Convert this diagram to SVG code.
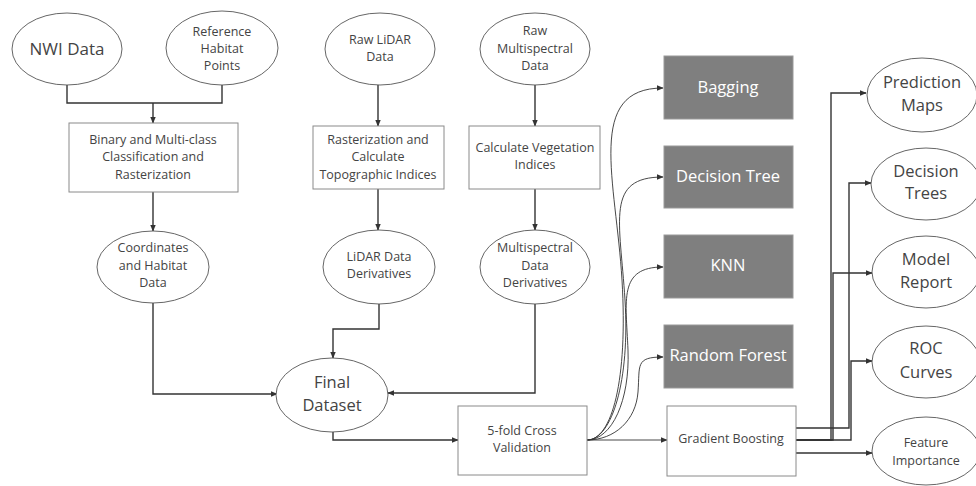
<svg xmlns="http://www.w3.org/2000/svg" width="976" height="486" viewBox="0 0 976 486">
<style>
.bg{fill:#fff}
.el{fill:#fff;stroke:#555;stroke-width:0.9}
.bx{fill:#fff;stroke:#8a8a8a;stroke-width:1}
.dk{fill:#7f7f7f;stroke:#9a9a9a;stroke-width:1}
text{font-family:"Open Sans","Noto Sans","DejaVu Sans",sans-serif;fill:#444;text-anchor:middle}
.s{font-size:12.5px}
.m{font-size:16.5px}
.l{font-size:17px}
.w{fill:#fff;font-size:16.5px}
.c{fill:none;stroke:#333;stroke-width:1.4}
.cv{fill:none;stroke:#333;stroke-width:0.9}
</style>
<defs>
<marker id="ah" viewBox="0 0 10 10" refX="9" refY="5" markerWidth="7" markerHeight="7" markerUnits="userSpaceOnUse" orient="auto">
<path d="M0,1 L10,5 L0,9 Z" fill="#333"/>
</marker>
</defs>
<rect class="bg" x="0" y="0" width="976" height="486"/>
<g id="connectors">
<path class="c" d="M67,85 V103 H222 V85"/>
<path class="c" d="M153,103 V123" marker-end="url(#ah)"/>
<path class="c" d="M153,192 V231" marker-end="url(#ah)"/>
<path class="c" d="M378,85 V126" marker-end="url(#ah)"/>
<path class="c" d="M535,85 V126" marker-end="url(#ah)"/>
<path class="c" d="M378,189 V230" marker-end="url(#ah)"/>
<path class="c" d="M535,189 V230" marker-end="url(#ah)"/>
<path class="c" d="M153,303 V394 H277" marker-end="url(#ah)"/>
<path class="c" d="M379,304 V329 H333 V358" marker-end="url(#ah)"/>
<path class="c" d="M535,304 V393 H388" marker-end="url(#ah)"/>
<path class="c" d="M333,432 V440 H458" marker-end="url(#ah)"/>
<path class="cv" d="M587,440 C612,440 628,380 622,280 C616,180 585,88 663,88" marker-end="url(#ah)"/>
<path class="cv" d="M587,440 C612,440 630,380 625,300 C620,220 605,177 663,177" marker-end="url(#ah)"/>
<path class="cv" d="M587,440 C612,440 630,400 628,350 C626,300 618,267 663,267" marker-end="url(#ah)"/>
<path class="cv" d="M587,440 C615,440 636,420 638,392 C640,365 635,357 663,357" marker-end="url(#ah)"/>
<path class="cv" d="M587,440 H667" marker-end="url(#ah)"/>
<path class="c" d="M796,440 H831 V93 H866" marker-end="url(#ah)"/>
<path class="c" d="M796,428 H849 V183 H871" marker-end="url(#ah)"/>
<path class="c" d="M796,440 H833 V273 H872" marker-end="url(#ah)"/>
<path class="c" d="M796,440 H851 V361 H872" marker-end="url(#ah)"/>
<path class="c" d="M796,453 H872" marker-end="url(#ah)"/>
</g>
<g id="nwi"><ellipse class="el" cx="67" cy="49" rx="55" ry="36"/><text class="l" x="67" y="55">NWI Data</text></g>
<g id="ref"><ellipse class="el" cx="222" cy="48" rx="56" ry="37"/><text class="s" x="222" y="36">Reference</text><text class="s" x="222" y="53">Habitat</text><text class="s" x="222" y="70">Points</text></g>
<g id="rawlidar"><ellipse class="el" cx="380" cy="49" rx="55" ry="36"/><text class="s" x="380" y="44">Raw LiDAR</text><text class="s" x="380" y="61">Data</text></g>
<g id="rawms"><ellipse class="el" cx="535" cy="49" rx="55" ry="36"/><text class="s" x="535" y="35">Raw</text><text class="s" x="535" y="53">Multispectral</text><text class="s" x="535" y="70">Data</text></g>
<g id="binary"><rect class="bx" x="69" y="123" width="169" height="69"/><text class="s" x="153" y="144">Binary and Multi-class</text><text class="s" x="153" y="161">Classification and</text><text class="s" x="153" y="179">Rasterization</text></g>
<g id="raster"><rect class="bx" x="313" y="126" width="131" height="63"/><text class="s" x="378" y="144">Rasterization and</text><text class="s" x="378" y="161">Calculate</text><text class="s" x="378" y="179">Topographic Indices</text></g>
<g id="veg"><rect class="bx" x="469" y="126" width="131" height="63"/><text class="s" x="535" y="152">Calculate Vegetation</text><text class="s" x="535" y="169">Indices</text></g>
<g id="coords"><ellipse class="el" cx="153" cy="267" rx="56" ry="36"/><text class="s" x="153" y="252">Coordinates</text><text class="s" x="153" y="270">and Habitat</text><text class="s" x="153" y="287">Data</text></g>
<g id="lidarderiv"><ellipse class="el" cx="379" cy="267" rx="56" ry="37"/><text class="s" x="379" y="261">LiDAR Data</text><text class="s" x="379" y="278">Derivatives</text></g>
<g id="msderiv"><ellipse class="el" cx="535" cy="267" rx="55" ry="37"/><text class="s" x="535" y="252">Multispectral</text><text class="s" x="535" y="270">Data</text><text class="s" x="535" y="287">Derivatives</text></g>
<g id="final"><ellipse class="el" cx="332" cy="395" rx="56" ry="37"/><text class="m" x="332" y="388">Final</text><text class="m" x="332" y="411">Dataset</text></g>
<g id="cv"><rect class="bx" x="458" y="406" width="129" height="69"/><text class="s" x="522" y="435">5-fold Cross</text><text class="s" x="522" y="452">Validation</text></g>
<g id="bagging"><rect class="dk" x="664" y="56" width="129" height="63"/><text class="w" x="728" y="93">Bagging</text></g>
<g id="dtree"><rect class="dk" x="664" y="146" width="129" height="62"/><text class="w" x="728" y="182">Decision Tree</text></g>
<g id="knn"><rect class="dk" x="664" y="235" width="129" height="63"/><text class="w" x="728" y="271">KNN</text></g>
<g id="rf"><rect class="dk" x="664" y="325" width="129" height="63"/><text class="w" x="728" y="361">Random Forest</text></g>
<g id="gb"><rect class="bx" x="667" y="406" width="129" height="70"/><text class="s" x="731" y="443">Gradient Boosting</text></g>
<g id="predmaps"><ellipse class="el" cx="922" cy="95" rx="55" ry="37"/><text class="m" x="922" y="88">Prediction</text><text class="m" x="922" y="111">Maps</text></g>
<g id="dtrees"><ellipse class="el" cx="926" cy="184" rx="55" ry="36"/><text class="m" x="926" y="177">Decision</text><text class="m" x="926" y="199">Trees</text></g>
<g id="report"><ellipse class="el" cx="926" cy="272" rx="54" ry="36"/><text class="m" x="926" y="265">Model</text><text class="m" x="926" y="288">Report</text></g>
<g id="roc"><ellipse class="el" cx="926" cy="362" rx="54" ry="36"/><text class="m" x="926" y="354">ROC</text><text class="m" x="926" y="378">Curves</text></g>
<g id="featimp"><ellipse class="el" cx="926" cy="451" rx="54" ry="34"/><text class="s" x="926" y="447">Feature</text><text class="s" x="926" y="465">Importance</text></g>
</svg>
